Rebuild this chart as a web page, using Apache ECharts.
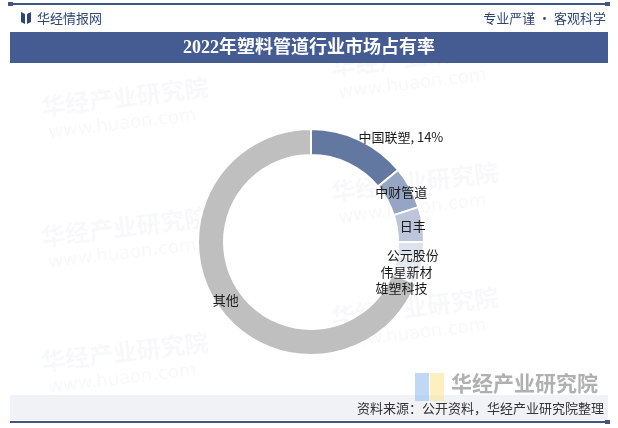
<!DOCTYPE html>
<html><head><meta charset="utf-8">
<script src="https://cdn.jsdelivr.net/npm/echarts@6/dist/echarts.min.js"></script>
<style>html,body{margin:0;padding:0;background:#fff}#c{width:618px;height:428px}</style>
</head><body><div id="c"></div>
<script>
const categories = ['中国联塑','中财管道','日丰','公元股份','伟星新材','雄塑科技','其他'];
const shares = [14, 6, 5, 2.5, 2, 1.5, 69];
const colors = ['#6378a0','#97a5c4','#bcc5d9','#dde2ec','#e6e9f0','#eef0f5','#bfbfbf'];
const titleText = '2022年塑料管道行业市场占有率';
const sourceText = '资料来源：公开资料，华经产业研究院整理';

const chart = echarts.init(document.getElementById('c'), null, {renderer:'canvas'});
const font = '"Noto Sans CJK SC","Noto Sans",sans-serif';
const labelOffsets = {
  '中国联塑':[46,-12], '公元股份':[-1,5], '伟星新材':[-5,8], '雄塑科技':[-7,13]
};
const data = categories.map((n,i)=>({
  name:n, value:shares[i], itemStyle:{color:colors[i]},
  label:{offset: labelOffsets[n] || [0,0],
         formatter: i===0 ? '{b}, {d}%' : '{b}'}
}));

const wm = [];
[[40,95],[330,180],[40,225],[330,305],[40,350],[330,55]].forEach(p=>{
  wm.push({type:'group', x:p[0], y:p[1], rotation:0.12, silent:true, z:0, children:[
    {type:'text', style:{text:'华经产业研究院', x:0, y:0, font:'bold 24px '+font, fill:'rgba(200,205,215,0.15)'}},
    {type:'text', style:{text:'www.huaon.com', x:4, y:30, font:'18px "DejaVu Sans",sans-serif', fill:'rgba(200,205,215,0.15)'}}
  ]});
});

chart.setOption({
  animation:false,
  backgroundColor:'#ffffff',
  graphic:[
    ...wm,
    {type:'rect', shape:{x:10,y:3,width:598,height:2}, style:{fill:'#3f5687'}},
    {type:'rect', shape:{x:8,y:2,width:5,height:4}, style:{fill:'#3f5687'}},
    {type:'rect', shape:{x:605,y:2,width:5,height:4}, style:{fill:'#3f5687'}},
    {type:'polygon', shape:{points:[[21,12],[25,14],[25,24],[21,22]]}, style:{fill:'#2e4575'}},
    {type:'polygon', shape:{points:[[27,14],[31,12],[31,22],[27,24]]}, style:{fill:'#2e4575'}},
    {type:'text', style:{text:'华经情报网', x:37, y:18, verticalAlign:'middle', font:'13px '+font, fill:'#2e4575'}},
    {type:'text', style:{text:'专业严谨 • 客观科学', x:606, y:18, align:'right', verticalAlign:'middle', font:'13px '+font, fill:'#2e4575'}},
    {type:'rect', shape:{x:10,y:32,width:598,height:31}, style:{fill:'#445c92'}},
    {type:'text', style:{text:titleText, x:309, y:48, align:'center', verticalAlign:'middle', font:'bold 18px "Liberation Serif","Noto Sans CJK SC",serif', fill:'#ffffff'}},
    {type:'rect', shape:{x:10,y:395,width:598,height:25}, style:{fill:'#eef0f5', opacity:0.85}},
    {type:'rect', shape:{x:415,y:373,width:14,height:28}, style:{fill:'rgba(150,190,240,0.6)'}},
    {type:'rect', shape:{x:430,y:373,width:14,height:28}, style:{fill:'rgba(250,230,150,0.6)'}},
    {type:'text', style:{text:'华经产业研究院', x:598, y:383, align:'right', verticalAlign:'middle', font:'bold 21px '+font, fill:'rgba(150,150,150,0.75)'}},
    {type:'text', style:{text:sourceText, x:604, y:408, align:'right', verticalAlign:'middle', font:'13px '+font, fill:'#333333'}},
    {type:'rect', shape:{x:10,y:421,width:598,height:2}, style:{fill:'#3f5687'}},
    {type:'rect', shape:{x:605,y:420,width:5,height:4}, style:{fill:'#3f5687'}}
  ],
  series:[{
    type:'pie',
    center:[311,242],
    radius:[87,113],
    startAngle:90,
    clockwise:true,
    percentPrecision:0,
    avoidLabelOverlap:false,
    itemStyle:{borderColor:'#ffffff', borderWidth:2},
    label:{show:true, position:'inside', color:'#1a1a1a', fontSize:13, fontFamily:font},
    labelLine:{show:false},
    emphasis:{disabled:true},
    data:data
  }]
});
</script></body></html>
